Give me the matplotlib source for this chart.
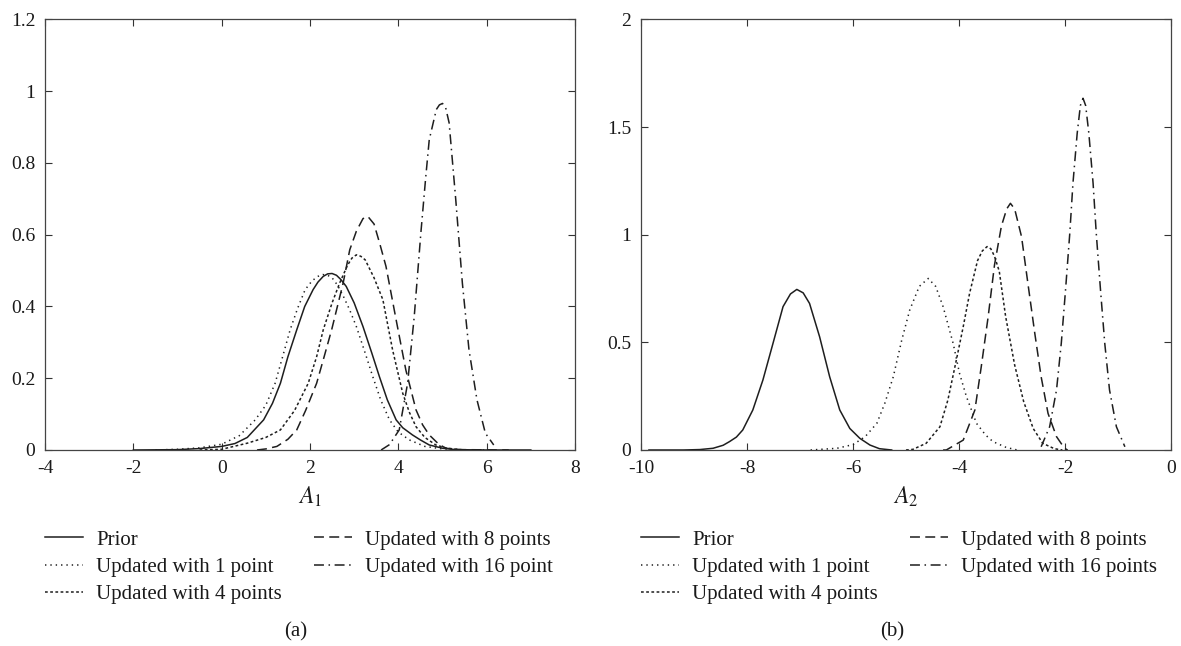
import matplotlib
matplotlib.use("Agg")
import matplotlib.pyplot as plt

plt.rcParams['font.family'] = ['Liberation Serif', 'DejaVu Serif']
plt.rcParams['mathtext.fontset'] = 'stix'

# ---------------- Panel (a): A1 ----------------
prior_a_x = [-2.0, -1.0, -0.5, 0.0, 0.3, 0.58, 0.95, 1.15, 1.33, 1.5, 1.70, 1.88, 2.07, 2.18, 2.30, 2.40, 2.50, 2.60,
             2.70, 2.82, 3.0, 3.20, 3.40, 3.57, 3.75, 3.95, 4.10, 4.32, 4.50, 4.70, 5.0, 5.3, 6.0, 7.0]
prior_a_y = [0.0, 0.001, 0.004, 0.010, 0.018, 0.035, 0.084, 0.13, 0.186, 0.26, 0.335, 0.40, 0.447, 0.468, 0.484, 0.491, 0.492, 0.487,
             0.475, 0.456, 0.41, 0.344, 0.27, 0.205, 0.14, 0.084, 0.062, 0.042, 0.028, 0.014, 0.005, 0.001, 0.0, 0.0]

upd1_a_x = [-1.5, -1.0, -0.5, 0.0, 0.4, 0.76, 1.0, 1.21, 1.38, 1.55, 1.72, 1.89, 2.05, 2.18, 2.29, 2.40, 2.5, 2.62, 2.75, 2.9,
            3.05, 3.25, 3.42, 3.6, 3.80, 4.0, 4.25, 4.6, 5.0, 5.5, 6.0]
upd1_a_y = [0.0, 0.002, 0.006, 0.016, 0.04, 0.084, 0.125, 0.186, 0.26, 0.335, 0.395, 0.447, 0.472, 0.484, 0.489, 0.487, 0.48, 0.46, 0.43, 0.39,
            0.344, 0.27, 0.205, 0.14, 0.084, 0.05, 0.028, 0.01, 0.003, 0.0, 0.0]

upd4_a_x = [-0.5, 0.0, 0.58, 1.0, 1.33, 1.65, 1.96, 2.15, 2.30, 2.50, 2.67, 2.85, 2.95, 3.05, 3.15, 3.25, 3.45, 3.65, 3.87,
            4.10, 4.25, 4.40, 4.60, 4.85, 5.10, 5.50]
upd4_a_y = [0.0, 0.002, 0.019, 0.035, 0.056, 0.11, 0.186, 0.26, 0.335, 0.41, 0.465, 0.515, 0.535, 0.544, 0.540, 0.53, 0.48, 0.419, 0.279,
            0.158, 0.105, 0.065, 0.035, 0.014, 0.005, 0.0]

upd8_a_x = [0.8, 1.0, 1.25, 1.5, 1.70, 1.90, 2.15, 2.32, 2.49, 2.62, 2.75, 2.90, 3.05, 3.20, 3.31, 3.45, 3.58,
            3.72, 3.95, 4.17, 4.40, 4.55, 4.70, 4.90, 5.07, 5.40, 6.5]
upd8_a_y = [0.0, 0.003, 0.01, 0.03, 0.056, 0.11, 0.186, 0.26, 0.335, 0.40, 0.465, 0.558, 0.61, 0.645, 0.651, 0.63, 0.575,
            0.512, 0.363, 0.223, 0.112, 0.07, 0.042, 0.018, 0.005, 0.001, 0.0]

upd16_a_x = [3.61, 3.80, 4.02, 4.21, 4.36, 4.51, 4.62, 4.70, 4.86, 4.93, 5.00, 5.07, 5.15, 5.30, 5.45, 5.60, 5.78, 5.97, 6.16]
upd16_a_y = [0.0, 0.015, 0.056, 0.186, 0.372, 0.605, 0.76, 0.865, 0.949, 0.962, 0.966, 0.955, 0.912, 0.698, 0.465, 0.279, 0.14, 0.047, 0.014]

# ---------------- Panel (b): A2 ----------------
prior_b_x = [-9.85, -9.2, -8.89, -8.64, -8.45, -8.33, -8.2, -8.08, -7.89, -7.70, -7.51, -7.32, -7.18, -7.06, -6.94,
             -6.82, -6.63, -6.44, -6.25, -6.06, -5.87, -5.68, -5.5, -5.27]
prior_b_y = [0.0, 0.0, 0.002, 0.008, 0.022, 0.039, 0.06, 0.093, 0.186, 0.325, 0.495, 0.666, 0.725, 0.746, 0.73,
             0.681, 0.526, 0.34, 0.186, 0.10, 0.054, 0.023, 0.006, 0.0]

upd1_b_x = [-6.8, -6.3, -6.0, -5.77, -5.55, -5.40, -5.24, -5.08, -4.93, -4.75, -4.58, -4.44, -4.30, -4.11, -3.99,
            -3.86, -3.67, -3.50, -3.36, -3.11, -2.9]
upd1_b_y = [0.0, 0.008, 0.025, 0.062, 0.124, 0.217, 0.34, 0.511, 0.65, 0.76, 0.797, 0.76, 0.666, 0.495, 0.356,
            0.248, 0.124, 0.07, 0.039, 0.012, 0.0]

upd4_b_x = [-5.0, -4.87, -4.62, -4.36, -4.21, -4.05, -3.92, -3.80, -3.65, -3.56, -3.47, -3.40, -3.33, -3.24, -3.12, -2.95, -2.78,
            -2.60, -2.42, -2.20, -2.05]
upd4_b_y = [0.0, 0.003, 0.031, 0.108, 0.232, 0.418, 0.573, 0.728, 0.88, 0.925, 0.945, 0.935, 0.90, 0.83, 0.62, 0.395, 0.225,
            0.10, 0.031, 0.006, 0.0]

upd8_b_x = [-4.3, -4.24, -3.92, -3.70, -3.58, -3.45, -3.33, -3.20, -3.10, -3.03, -2.95, -2.82, -2.70, -2.57, -2.45, -2.32, -2.16,
            -2.01, -1.95]
upd8_b_y = [0.0, 0.0, 0.046, 0.186, 0.387, 0.619, 0.86, 1.04, 1.12, 1.146, 1.12, 0.991, 0.774, 0.542, 0.34, 0.17, 0.062,
            0.008, 0.0]

upd16_b_x = [-2.45, -2.29, -2.16, -2.07, -1.99, -1.91, -1.85, -1.77, -1.71, -1.66, -1.61, -1.55, -1.47, -1.41, -1.33, -1.25, -1.16,
             -1.03, -0.87]
upd16_b_y = [0.015, 0.108, 0.279, 0.496, 0.743, 1.006, 1.239, 1.471, 1.60, 1.634, 1.60, 1.471, 1.239, 1.006, 0.743, 0.496, 0.279,
             0.108, 0.015]

labels_a = ["Prior", "Updated with 1 point", "Updated with 4 points", "Updated with 8 points", "Updated with 16 point"]
labels_b = ["Prior", "Updated with 1 point", "Updated with 4 points", "Updated with 8 points", "Updated with 16 points"]

xticks_a = [-4, -2, 0, 2, 4, 6, 8]
yticks_a = [0, 0.2, 0.4, 0.6, 0.8, 1, 1.2]
xticks_b = [-10, -8, -6, -4, -2, 0]
yticks_b = [0, 0.5, 1, 1.5, 2]

# ---------------- styling ----------------
line_color = '#1e1e1e'
styles = [
    dict(linestyle='-', linewidth=1.1),
    dict(linestyle=(0, (0.9, 2.6)), linewidth=1.1),
    dict(linestyle=(0, (1.8, 1.6)), linewidth=1.1),
    dict(linestyle=(0, (6.5, 3.5)), linewidth=1.1),
    dict(linestyle=(0, (6.5, 3.0, 1.0, 3.0)), linewidth=1.1),
]

W, H = 1181, 646
fig = plt.figure(figsize=(W / 100, H / 100), dpi=100)
ax1 = fig.add_axes([45 / W, 196 / H, 530 / W, 430.5 / H])
ax2 = fig.add_axes([641 / W, 196 / H, 530 / W, 430.5 / H])

series_a = [(prior_a_x, prior_a_y), (upd1_a_x, upd1_a_y), (upd4_a_x, upd4_a_y),
            (upd8_a_x, upd8_a_y), (upd16_a_x, upd16_a_y)]
series_b = [(prior_b_x, prior_b_y), (upd1_b_x, upd1_b_y), (upd4_b_x, upd4_b_y),
            (upd8_b_x, upd8_b_y), (upd16_b_x, upd16_b_y)]


def fmt(v):
    return ('%g' % v)


for ax, series, labels, xt, yt, xl, xlab, cap, capx in [
        (ax1, series_a, labels_a, xticks_a, yticks_a, (-4, 8), r'$A_1$', '(a)', 296),
        (ax2, series_b, labels_b, xticks_b, yticks_b, (-10, 0), r'$A_2$', '(b)', 892)]:
    for (xs, ys), lab, st in zip(series, labels, styles):
        ax.plot(xs, ys, color=line_color, label=lab, **st)
    ax.set_xlim(*xl)
    ax.set_ylim(yt[0], yt[-1])
    ax.set_xticks(xt)
    ax.set_xticklabels([fmt(v) for v in xt])
    ax.set_yticks(yt)
    ax.set_yticklabels([fmt(v) for v in yt])
    ax.tick_params(direction='in', top=True, right=True, length=5, width=0.8,
                   labelsize=14, pad=7, colors='#333333', labelcolor='#1a1a1a')
    for sp in ax.spines.values():
        sp.set_color('#444444')
        sp.set_linewidth(0.9)
    ax.set_xlabel(xlab, fontsize=17, labelpad=6, color='#1a1a1a')
    leg = ax.legend(loc='upper left', bbox_to_anchor=(0.0, -0.186), ncol=2, frameon=False,
                    fontsize=15, handlelength=1.8, handletextpad=0.65, columnspacing=1.55,
                    labelspacing=0.37, borderpad=0.0, borderaxespad=0.0)
    for t in leg.get_texts():
        t.set_color('#1a1a1a')
    fig.text(capx / W, 1 - 632 / H, cap, ha='center', va='center', fontsize=15, color='#1a1a1a')

fig.savefig('out.png', dpi=100)
